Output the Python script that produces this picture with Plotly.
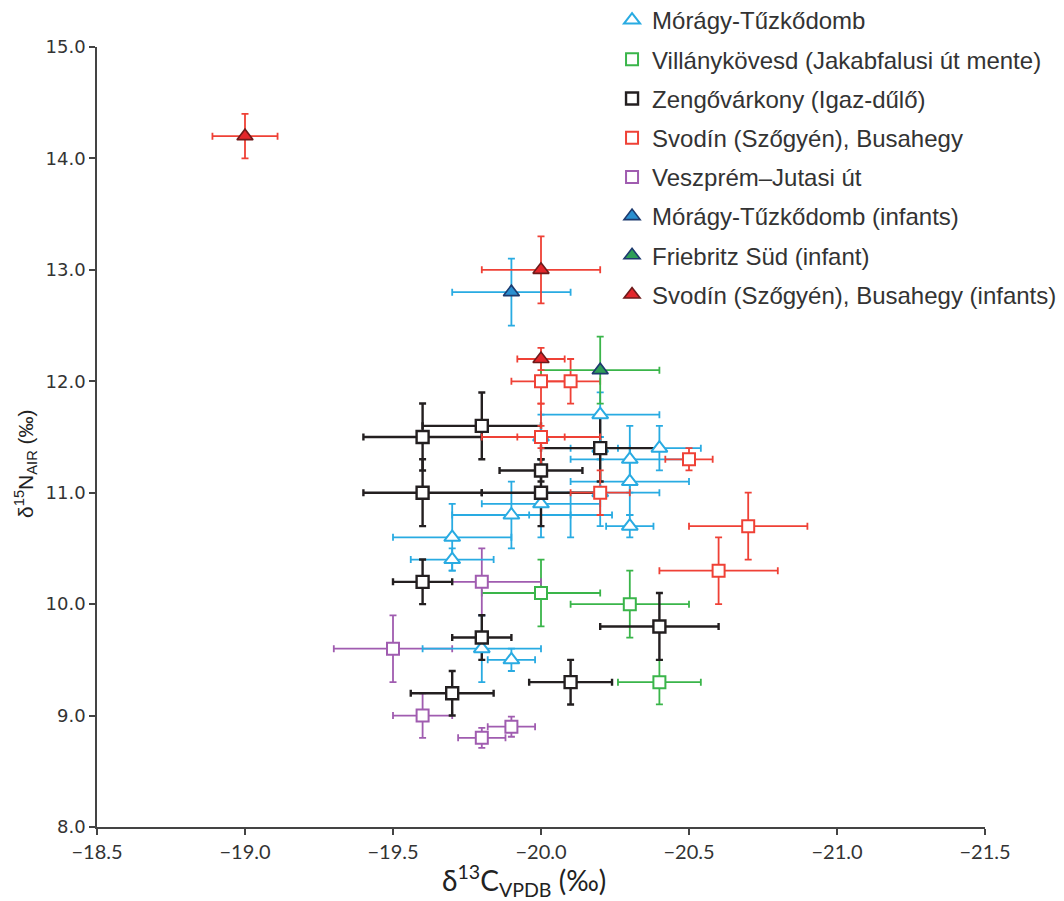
import plotly.graph_objects as go

# ---------------- data ----------------
# Mórágy-Tűzkődomb (open cyan triangles)
moragy_x = [-20.2, -20.0, -20.2, -20.4, -20.3, -20.3, -20.2, -20.0, -19.9, -20.3, -19.7, -19.7, -19.8, -19.9]
moragy_y = [11.7, 11.5, 11.4, 11.4, 11.3, 11.1, 11.0, 10.9, 10.8, 10.7, 10.6, 10.4, 9.6, 9.5]
moragy_xerr = [0.2, 0.2, 0.1, 0.14, 0.2, 0.2, 0.2, 0.2, 0.2, 0.08, 0.2, 0.14, 0.2, 0.08]
moragy_yerr = [0.2, 0.2, 0.1, 0.2, 0.3, 0.3, 0.3, 0.3, 0.3, 0.1, 0.3, 0.1, 0.3, 0.1]
# Mórágy-Tűzkődomb measurement shown with error bars only (no visible marker)
moragy_bar_x = [-20.1]
moragy_bar_y = [10.8]
moragy_bar_xerr = [0.14]
moragy_bar_yerr = [0.2]

# Villánykövesd (Jakabfalusi út mente)
villany_x = [-20.0, -20.3, -20.4]
villany_y = [10.1, 10.0, 9.3]
villany_xerr = [0.2, 0.2, 0.14]
villany_yerr = [0.3, 0.3, 0.2]

# Zengővárkony (Igaz-dűlő)
zengo_x = [-19.8, -19.6, -20.2, -20.0, -19.6, -20.0, -19.6, -19.8, -19.7, -20.1, -20.4]
zengo_y = [11.6, 11.5, 11.4, 11.2, 11.0, 11.0, 10.2, 9.7, 9.2, 9.3, 9.8]
zengo_xerr = [0.2, 0.2, 0.2, 0.14, 0.2, 0.2, 0.1, 0.1, 0.14, 0.14, 0.2]
zengo_yerr = [0.3, 0.3, 0.3, 0.1, 0.3, 0.3, 0.2, 0.2, 0.2, 0.2, 0.3]

# Svodín (Szőgyén), Busahegy
svodin_x = [-20.0, -20.1, -20.0, -20.0, -20.2, -20.5, -20.7, -20.6]
svodin_y = [12.0, 12.0, 11.5, 11.5, 11.0, 11.3, 10.7, 10.3]
svodin_xerr = [0.1, 0.1, 0.2, 0.08, 0.1, 0.08, 0.2, 0.2]
svodin_yerr = [0.2, 0.2, 0.3, 0.1, 0.2, 0.1, 0.3, 0.3]

# Veszprém–Jutasi út
veszprem_x = [-19.8, -19.5, -19.6, -19.8, -19.9]
veszprem_y = [10.2, 9.6, 9.0, 8.8, 8.9]
veszprem_xerr = [0.2, 0.2, 0.1, 0.08, 0.08]
veszprem_yerr = [0.3, 0.3, 0.2, 0.09, 0.09]

# Mórágy-Tűzkődomb (infants)
moragy_inf_x = [-19.9]
moragy_inf_y = [12.8]
moragy_inf_xerr = [0.2]
moragy_inf_yerr = [0.3]

# Friebritz Süd (infant)
friebritz_x = [-20.2]
friebritz_y = [12.1]
friebritz_xerr = [0.2]
friebritz_yerr = [0.3]

# Svodín (Szőgyén), Busahegy (infants)
svodin_inf_x = [-19.0, -20.0, -20.0]
svodin_inf_y = [14.2, 13.0, 12.2]
svodin_inf_xerr = [0.11, 0.2, 0.08]
svodin_inf_yerr = [0.2, 0.3, 0.1]

x_ticks = [-18.5, -19.0, -19.5, -20.0, -20.5, -21.0, -21.5]
y_ticks = [8.0, 9.0, 10.0, 11.0, 12.0, 13.0, 14.0, 15.0]

# ---------------- styling ----------------
CYAN = "#29ABE2"
GREEN = "#3AB54A"
BLACK = "#231F20"
RED = "#EF4136"
PURPLE = "#A05CB0"
NAVY = "#1D3A6E"
DARKRED = "#6E1A1A"

fig = go.Figure()


def add_bars(xs, ys, xe, ye, color, thick=1.8):
    fig.add_trace(go.Scatter(
        x=xs, y=ys, mode="markers", showlegend=False, hoverinfo="skip",
        marker=dict(size=1, opacity=0),
        error_x=dict(type="data", array=xe, visible=True, color=color,
                     thickness=thick, width=3.5),
        error_y=dict(type="data", array=ye, visible=True, color=color,
                     thickness=thick, width=3.5),
    ))


def add_marks(name, xs, ys, symbol, fill, line_color, size, rank, lw=2):
    fig.add_trace(go.Scatter(
        x=xs, y=ys, mode="markers", name=name,
        legendgroup=name, showlegend=True, legendrank=rank,
        marker=dict(symbol=symbol, size=size, color=fill,
                    line=dict(color=line_color, width=lw)),
    ))


# error bars first (all series), then markers on top
add_bars(villany_x, villany_y, villany_xerr, villany_yerr, GREEN)
add_bars(veszprem_x, veszprem_y, veszprem_xerr, veszprem_yerr, PURPLE)
add_bars(moragy_x, moragy_y, moragy_xerr, moragy_yerr, CYAN)
add_bars(moragy_bar_x, moragy_bar_y, moragy_bar_xerr, moragy_bar_yerr, CYAN)
add_bars(zengo_x, zengo_y, zengo_xerr, zengo_yerr, BLACK, thick=2.4)
add_bars(svodin_x, svodin_y, svodin_xerr, svodin_yerr, RED)
add_bars(moragy_inf_x, moragy_inf_y, moragy_inf_xerr, moragy_inf_yerr, CYAN)
add_bars(friebritz_x, friebritz_y, friebritz_xerr, friebritz_yerr, GREEN)
add_bars(svodin_inf_x, svodin_inf_y, svodin_inf_xerr, svodin_inf_yerr, RED)

add_marks("Villánykövesd (Jakabfalusi út mente)", villany_x, villany_y, "square", "white", GREEN, 12, 2)
add_marks("Veszprém–Jutasi út", veszprem_x, veszprem_y, "square", "white", PURPLE, 12, 5)
add_marks("Mórágy-Tűzkődomb", moragy_x, moragy_y, "triangle-up", "white", CYAN, 14, 1)
add_marks("Zengővárkony (Igaz-dűlő)", zengo_x, zengo_y, "square", "white", BLACK, 12, 3, lw=2.4)
add_marks("Svodín (Szőgyén), Busahegy", svodin_x, svodin_y, "square", "white", RED, 12, 4)
add_marks("Mórágy-Tűzkődomb (infants)", moragy_inf_x, moragy_inf_y, "triangle-up", "#2A8FD0", NAVY, 14, 6, lw=1.6)
add_marks("Friebritz Süd (infant)", friebritz_x, friebritz_y, "triangle-up", "#2E9E57", NAVY, 14, 7, lw=1.6)
add_marks("Svodín (Szőgyén), Busahegy (infants)", svodin_inf_x, svodin_inf_y, "triangle-up", "#E3262B", DARKRED, 14, 8, lw=1.6)

# plot area on screen: x 97..985, y 47..827 (page body adds 8 px offset)
fig.update_layout(
    width=1064, height=901,
    margin=dict(l=89, r=87, t=39, b=82, autoexpand=False),
    paper_bgcolor="white", plot_bgcolor="white",
    font=dict(family="Liberation Sans, Arial, sans-serif", color="#333333"),
    showlegend=True,
    legend=dict(
        x=0.58, y=1.0628, xanchor="left", yanchor="top",
        font=dict(size=24, color="#333333", family="Liberation Sans, Arial, sans-serif"),
        bgcolor="rgba(0,0,0,0)", tracegroupgap=5, itemwidth=30,
        traceorder="grouped",
    ),
    xaxis=dict(
        range=[x_ticks[0], x_ticks[-1]], tickvals=x_ticks, tickformat=".1f",
        showgrid=False, zeroline=False, showline=True, linecolor="#444444", linewidth=1.5,
        ticks="outside", ticklen=6, tickcolor="#444444", tickwidth=1.5,
        tickfont=dict(size=20, family="Lato, Liberation Sans, sans-serif", color="#333333"),
    ),
    yaxis=dict(
        range=[y_ticks[0], y_ticks[-1]], tickvals=y_ticks, tickformat=".1f",
        showgrid=False, zeroline=False, showline=True, linecolor="#444444", linewidth=1.5,
        ticks="outside", ticklen=6, tickcolor="#444444", tickwidth=1.5,
        tickfont=dict(size=18, family="DejaVu Sans, Liberation Sans, sans-serif", color="#333333"),
    ),
    annotations=[
        dict(text="δ<sup>13</sup>C<sub>VPDB</sub> (‰)", xref="paper", yref="paper",
             x=0.481, y=-0.068, xanchor="center", yanchor="middle", showarrow=False,
             font=dict(size=28, family="Lato, Liberation Sans, sans-serif", color="#222222")),
        dict(text="δ<sup>15</sup>N<sub>AIR</sub> (‰)", xref="paper", yref="paper",
             x=-0.080, y=0.4667, xanchor="center", yanchor="middle", showarrow=False,
             textangle=-90,
             font=dict(size=21, family="Liberation Sans Narrow, Liberation Sans, Arial, sans-serif",
                       color="#222222")),
    ],
)

fig.write_html("out.html")
